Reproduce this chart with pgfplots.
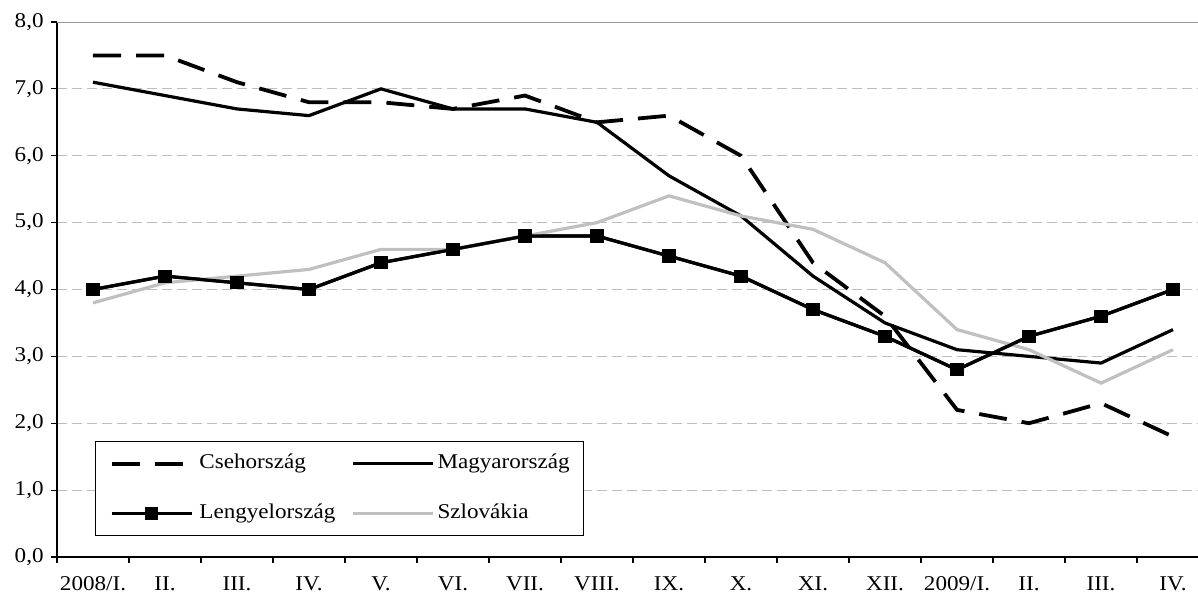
\documentclass[border=0pt]{standalone}
\usepackage{fontspec}
\setmainfont{Liberation Serif}[FakeStretch=1.1]
\usepackage{pgfplots}
\pgfplotsset{compat=1.18}
\definecolor{slgray}{HTML}{C0C0C0}
\definecolor{gridgray}{HTML}{BDBDBD}
\begin{document}
\fontsize{10.5}{12.5}\selectfont
\begin{tikzpicture}
\useasboundingbox (-28.5pt,-20.5pt) rectangle (570.5pt,278.5pt);
\begin{axis}[
  at={(0,0)}, anchor=south west,
  scale only axis, width=576pt, height=267.5pt,
  xmin=-0.5, xmax=15.5, ymin=0, ymax=8,
  axis x line*=bottom, axis y line*=left,
  axis line style={black, line width=0.7pt},
  tick style={black, line width=0.6pt},
  tick align=outside, major tick length=3pt,
  ytick={0,1,...,8},
  /pgf/number format/assume math mode=true,
  yticklabel style={/pgf/number format/.cd, fixed, fixed zerofill, precision=1, use comma},
  xtick={-0.5,0.5,...,15.5},
  x tick label as interval,
  xticklabels={2008/I.,II.,III.,IV.,V.,VI.,VII.,VIII.,IX.,X.,XI.,XII.,2009/I.,II.,III.,IV.},
  xticklabel style={yshift=-3pt},
  ymajorgrids,
  grid style={dash pattern=on 5pt off 2.5pt, color=gridgray, line width=0.5pt},
  legend columns=2,
  legend cell align=left,
  legend style={at={(0.033,0.2168)}, anchor=north west, draw=black, line width=0.6pt,
    inner xsep=7pt, inner ysep=6pt,
    nodes={inner sep=0pt, text height=7.5pt, text depth=2.5pt},
    /tikz/column 1/.style={column sep=3pt},
    /tikz/column 2/.style={column sep=8pt},
    /tikz/column 3/.style={column sep=1.5pt},
    row sep=15pt},
  legend image code/.code={\draw[mark repeat=2, mark phase=2, #1] plot coordinates {(0pt,0pt) (20pt,0pt) (40pt,0pt)};},
]
\addplot[black, line width=1.9pt, dash pattern=on 14pt off 7.5pt] coordinates {
 (0,7.5) (1,7.5) (2,7.1) (3,6.8) (4,6.8) (5,6.7) (6,6.9) (7,6.5)
 (8,6.6) (9,6.0) (10,4.4) (11,3.6) (12,2.2) (13,2.0) (14,2.3) (15,1.8)};
\addlegendentry{Csehország}
\addplot[black, line width=1.6pt] coordinates {
 (0,7.1) (1,6.9) (2,6.7) (3,6.6) (4,7.0) (5,6.7) (6,6.7) (7,6.5)
 (8,5.7) (9,5.1) (10,4.2) (11,3.5) (12,3.1) (13,3.0) (14,2.9) (15,3.4)};
\addlegendentry{Magyarország}
\addplot[black, line width=1.6pt, mark=square*, mark size=2.5pt, mark options={solid}] coordinates {
 (0,4.0) (1,4.2) (2,4.1) (3,4.0) (4,4.4) (5,4.6) (6,4.8) (7,4.8)
 (8,4.5) (9,4.2) (10,3.7) (11,3.3) (12,2.8) (13,3.3) (14,3.6) (15,4.0)};
\addlegendentry{Lengyelország}
\addplot[slgray, line width=1.6pt] coordinates {
 (0,3.8) (1,4.1) (2,4.2) (3,4.3) (4,4.6) (5,4.6) (6,4.8) (7,5.0)
 (8,5.4) (9,5.1) (10,4.9) (11,4.4) (12,3.4) (13,3.1) (14,2.6) (15,3.1)};
\addlegendentry{Szlovákia}
\addplot[black, line width=1.6pt, mark=square*, mark size=2.5pt, forget plot] coordinates {
 (0,4.0) (1,4.2) (2,4.1) (3,4.0) (4,4.4) (5,4.6) (6,4.8) (7,4.8)
 (8,4.5) (9,4.2) (10,3.7) (11,3.3) (12,2.8) (13,3.3) (14,3.6) (15,4.0)};
\draw[gray!80, line width=0.8pt] (rel axis cs:0,1) -- (rel axis cs:1,1);
\end{axis}
\end{tikzpicture}
\end{document}
